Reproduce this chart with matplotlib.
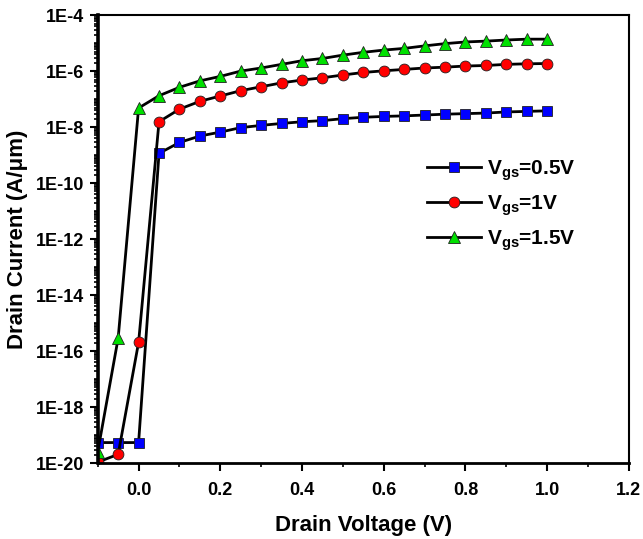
import numpy as np
import matplotlib
matplotlib.use("Agg")
import matplotlib.pyplot as plt
from matplotlib.ticker import FixedLocator, NullFormatter

plt.rcParams['font.family'] = ['Liberation Sans', 'DejaVu Sans']
plt.rcParams['font.weight'] = 'bold'
plt.rcParams['mathtext.fontset'] = 'custom'
plt.rcParams['mathtext.rm'] = 'Liberation Sans:bold'
plt.rcParams['mathtext.bf'] = 'Liberation Sans:bold'

vd = [-0.1, -0.05, 0.0, 0.05, 0.1, 0.15, 0.2, 0.25, 0.3, 0.35, 0.4, 0.45, 0.5,
      0.55, 0.6, 0.65, 0.7, 0.75, 0.8, 0.85, 0.9, 0.95, 1.0]

# log10 of drain current (A/um)
log_id_05 = [-19.27, -19.27, -19.27, -8.94, -8.55, -8.32, -8.18, -8.02, -7.94, -7.87,
             -7.81, -7.77, -7.70, -7.65, -7.62, -7.60, -7.57, -7.54, -7.52, -7.50,
             -7.46, -7.44, -7.42]
log_id_10 = [-19.97, -19.69, -15.69, -7.81, -7.36, -7.08, -6.89, -6.70, -6.56, -6.42,
             -6.32, -6.24, -6.14, -6.05, -5.99, -5.94, -5.89, -5.86, -5.82, -5.80,
             -5.76, -5.74, -5.73]
log_id_15 = [-19.60, -15.54, -7.32, -6.88, -6.58, -6.35, -6.19, -6.00, -5.89, -5.76,
             -5.63, -5.55, -5.43, -5.33, -5.25, -5.19, -5.10, -5.02, -4.96, -4.93,
             -4.89, -4.86, -4.86]

labels = [r'V$_{\mathregular{gs}}$=0.5V', r'V$_{\mathregular{gs}}$=1V', r'V$_{\mathregular{gs}}$=1.5V']
ytick_exps = list(range(-20, -3, 2))
xticks = [0.0, 0.2, 0.4, 0.6, 0.8, 1.0, 1.2]

fig = plt.figure(figsize=(6.43, 5.39), dpi=100)
ax = fig.add_axes([0.152, 0.141, 0.826, 0.831])

series = [
    (log_id_05, 's', '#0000ff', 7.0),
    (log_id_10, 'o', '#ff0000', 7.8),
    (log_id_15, '^', '#00e000', 8.5),
]
for (vals, m, c, ms), lab in zip(series, labels):
    ax.plot(vd, np.power(10.0, vals), color='black', lw=2.0, marker=m, ms=ms,
            mfc=c, mec='#202020', mew=0.6, label=lab)

ax.set_yscale('log')
ax.set_xlim(-0.1, 1.2)
ax.set_ylim(1e-20, 1e-4)

ax.yaxis.set_major_locator(FixedLocator([10.0 ** e for e in ytick_exps]))
ax.set_yticklabels(['1E%d' % e for e in ytick_exps])
minor = []
for e in range(-20, -4):
    for k in range(1, 10):
        v = k * 10.0 ** e
        if k == 1 and e % 2 == 0:
            continue
        minor.append(v)
ax.yaxis.set_minor_locator(FixedLocator(minor))
ax.yaxis.set_minor_formatter(NullFormatter())

ax.set_xticks(xticks)
ax.set_xticklabels(['%.1f' % t for t in xticks])
ax.set_xticks(np.arange(-0.1, 1.25, 0.2), minor=True)

ax.tick_params(axis='both', which='major', direction='out', length=6, width=1.5,
               labelsize=13, top=False, right=False)
ax.tick_params(axis='x', which='major', pad=8)
ax.tick_params(axis='both', which='minor', direction='out', length=3, width=1.2,
               top=False, right=False)
for lab in ax.get_xticklabels() + ax.get_yticklabels():
    lab.set_fontweight('bold')

ax.spines['left'].set_linewidth(2.6)
ax.spines['bottom'].set_linewidth(2.0)
ax.spines['top'].set_linewidth(1.5)
ax.spines['right'].set_linewidth(1.5)

ax.set_xlabel('Drain Voltage (V)', fontsize=16, fontweight='bold', labelpad=11)
ax.set_ylabel('Drain Current (A/\u03bcm)', fontsize=16, fontweight='bold', labelpad=6)

leg = ax.legend(loc='upper left', bbox_to_anchor=(0.604, 0.70), frameon=False,
                fontsize=15, handlelength=2.6, handletextpad=0.3, labelspacing=0.5,
                borderaxespad=0)

fig.savefig('out.png', dpi=100)
